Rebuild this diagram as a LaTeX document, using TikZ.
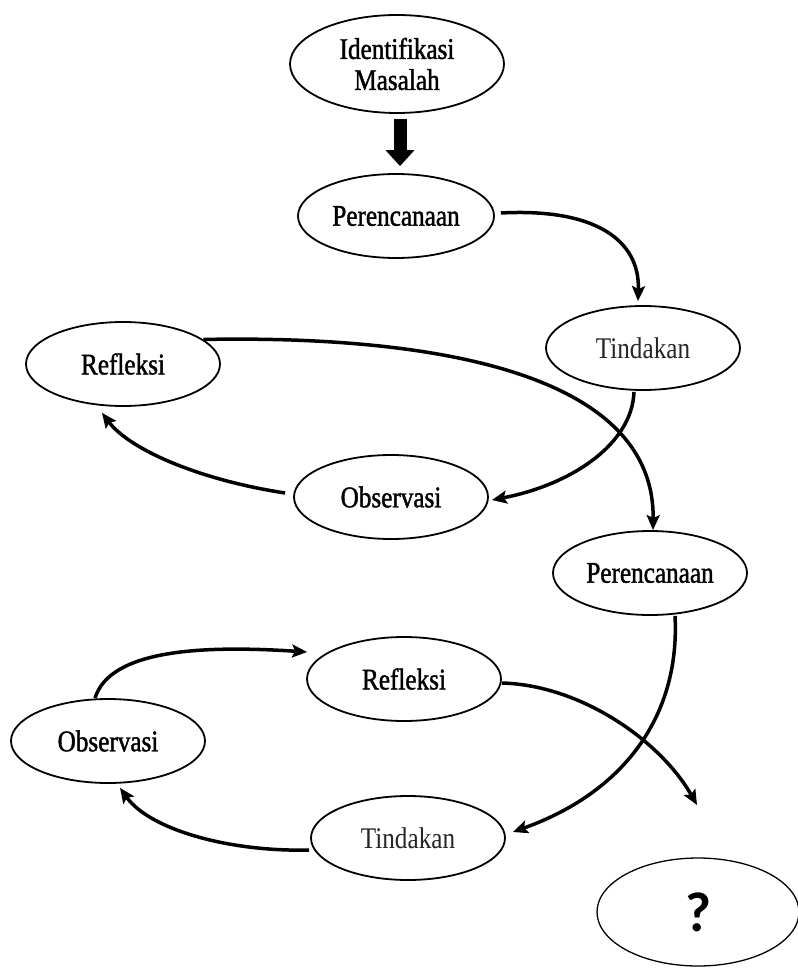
\documentclass[tikz,border=0pt]{standalone}
\usepackage{fontspec}
\usetikzlibrary{arrows.meta,shapes.geometric,calc}
\newfontfamily\serb[FakeStretch=0.84,FakeBold=1.4]{Liberation Serif}
\newfontfamily\serr[FakeStretch=0.84]{Liberation Serif}
\newfontfamily\qfont{Carlito}
\begin{document}
\begin{tikzpicture}[x=1pt,y=-1pt,
  ell/.style={draw, ellipse, line width=1.8pt, inner sep=0pt,
    minimum width=194pt, minimum height=84pt,
    font=\serb\fontsize{30}{31}\selectfont},
  tind/.style={font=\serr\fontsize{30}{31}\selectfont, text=black!85},
  conn/.style={line width=3.5pt, -{Stealth[length=15pt,width=13pt,inset=3pt]}},
  bigarrow/.style={line width=13pt, -{Triangle[length=16pt,width=28pt]}},
  qell/.style={draw, ellipse, line width=1.3pt, inner sep=0pt,
    minimum width=202pt, minimum height=108pt,
    font=\qfont\bfseries\fontsize{56}{56}\selectfont}
]
\useasboundingbox (0,0) rectangle (797,968);

\node[ell, minimum width=214pt, minimum height=98pt, align=center] (idm) at (397,64) {Identifikasi\\Masalah};
\node[ell, minimum width=196pt] (per1) at (396,216) {Perencanaan};
\node[ell, tind] (tin1) at (643,348) {Tindakan};
\node[ell] (ref1) at (123,364) {Refleksi};
\node[ell] (obs1) at (391,497) {Observasi};
\node[ell] (per2) at (650,573) {Perencanaan};
\node[ell] (ref2) at (404,679) {Refleksi};
\node[ell] (obs2) at (108,741) {Observasi};
\node[ell, tind] (tin2) at (408,838) {Tindakan};
\node[qell] (q) at (698,912) {?};
\coordinate (qend) at (697,805);

\draw[bigarrow, shorten <=5pt, shorten >=7pt] ($(idm.south)+(3,0)$) -- ($(per1.north)+(4,0)$);

\draw[conn] ($(per1.east)+(6,-3)$) .. controls (595,208) and (640,240) .. ($(tin1.north)+(-5,-4)$);
\draw[conn] ($(tin1.south)+(-9,1)$) .. controls (632,445) and (570,485) .. ($(obs1.east)+(3,3)$);
\draw[conn] (ref1.17) .. controls (440,335) and (655,375) .. ($(per2.north)+(3,0)$);
\draw[conn] ($(obs1.west)+(-8,-4)$) .. controls (200,480) and (130,450) .. ($(ref1.south)+(-21,6)$);
\draw[conn] ($(per2.south)+(25,0)$) .. controls (680,710) and (630,790) .. ($(tin2.east)+(7,-6)$);
\draw[conn] ($(ref2.east)+(0,4)$) .. controls (580,685) and (660,740) .. (qend);
\draw[conn] ($(obs2.north)+(-13,0)$) .. controls (110,650) and (200,645) .. ($(ref2.west)+(1,-27)$);
\draw[conn] ($(tin2.west)+(-1,12)$) .. controls (230,852) and (150,830) .. ($(obs2.south)+(12,4)$);
\end{tikzpicture}
\end{document}
